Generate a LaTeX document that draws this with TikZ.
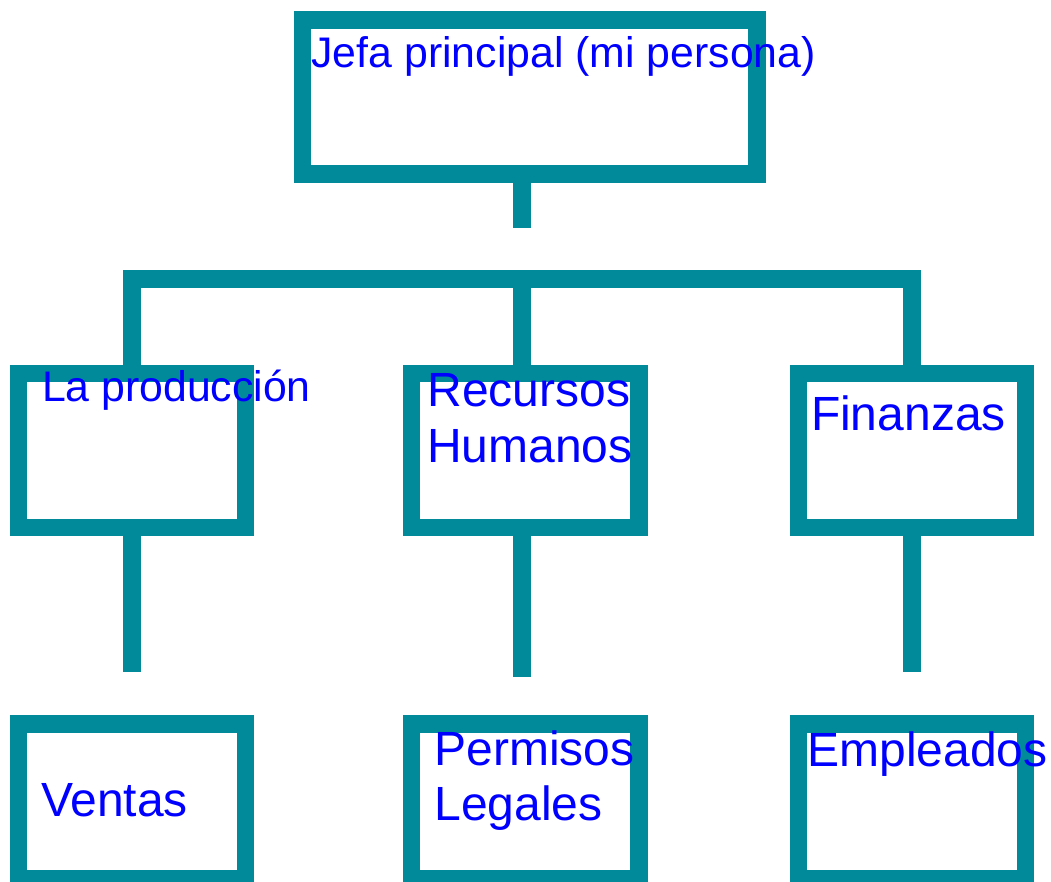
\documentclass[tikz,border=0pt]{standalone}
\usepackage{fontspec}
\setmainfont{Liberation Sans}
\definecolor{teal1}{RGB}{0,138,154}
\definecolor{txtblue}{RGB}{0,0,255}
\tikzset{
  box/.style={draw=teal1, line width=17.5pt, rectangle, inner sep=0pt, outer sep=0pt, minimum height=154.4pt},
  conn/.style={draw=teal1, line width=17.5pt, line cap=butt, line join=miter},
  lblsmall/.style={anchor=base west, inner sep=0pt, outer sep=0pt, text=txtblue, font=\fontsize{42.8}{50}\selectfont},
  lblbig/.style={anchor=base west, inner sep=0pt, outer sep=0pt, text=txtblue, font=\fontsize{48}{55.6}\selectfont}
}
\begin{document}
\begin{tikzpicture}[x=1pt,y=-1pt]
\useasboundingbox (0,0) rectangle (1051,881);
% boxes
\node[box, minimum width=454.7pt, minimum height=154.2pt] (top) at (529.7,97.1) {};
\node[box, minimum width=227.2pt] (m1) at (131.9,450.5) {};
\node[box, minimum width=227.5pt] (m2) at (525.4,450.5) {};
\node[box, minimum width=227pt] (m3) at (911.8,450.5) {};
\node[box, minimum width=227.2pt, minimum height=155pt] (b1) at (131.9,801.5) {};
\node[box, minimum width=227.5pt, minimum height=155pt] (b2) at (525.3,801.5) {};
\node[box, minimum width=227pt, minimum height=155pt] (b3) at (912,801.5) {};
% connector coordinates
\coordinate (s0) at (522,227.7);
\coordinate (bar) at (522,279);
\coordinate (e1) at (132,671.7);
\coordinate (e2) at (522,677);
\coordinate (e3) at (912,671.7);
% connectors
\draw[conn] (top.south -| s0) -- (s0);
\draw[conn] (m1.north -| e1) -- (e1 |- bar) -- (e3 |- bar) -- (m3.north -| e3);
\draw[conn] (bar) -- (m2.north -| bar);
\draw[conn] (m1.south -| e1) -- (e1);
\draw[conn] (m2.south -| e2) -- (e2);
\draw[conn] (m3.south -| e3) -- (e3);
% labels
\node[lblsmall] (ttop) at (311.5,67.7) {Jefa principal (mi persona)};
\node[lblsmall] (tm1) at (42,401) {La producción};
\node[lblbig] (tm2a) at (427.5,406.7) {Recursos};
\node[lblbig] (tm2b) at (427,462.3) {Humanos};
\node[lblbig] (tm3) at (811,430) {Finanzas};
\node[lblbig] (tb1) at (41,816.7) {Ventas};
\node[lblbig] (tb2a) at (434.5,765) {Permisos};
\node[lblbig] (tb2b) at (434.5,820) {Legales};
\node[lblbig] (tb3) at (807.5,766.7) {Empleados};
\end{tikzpicture}
\end{document}
